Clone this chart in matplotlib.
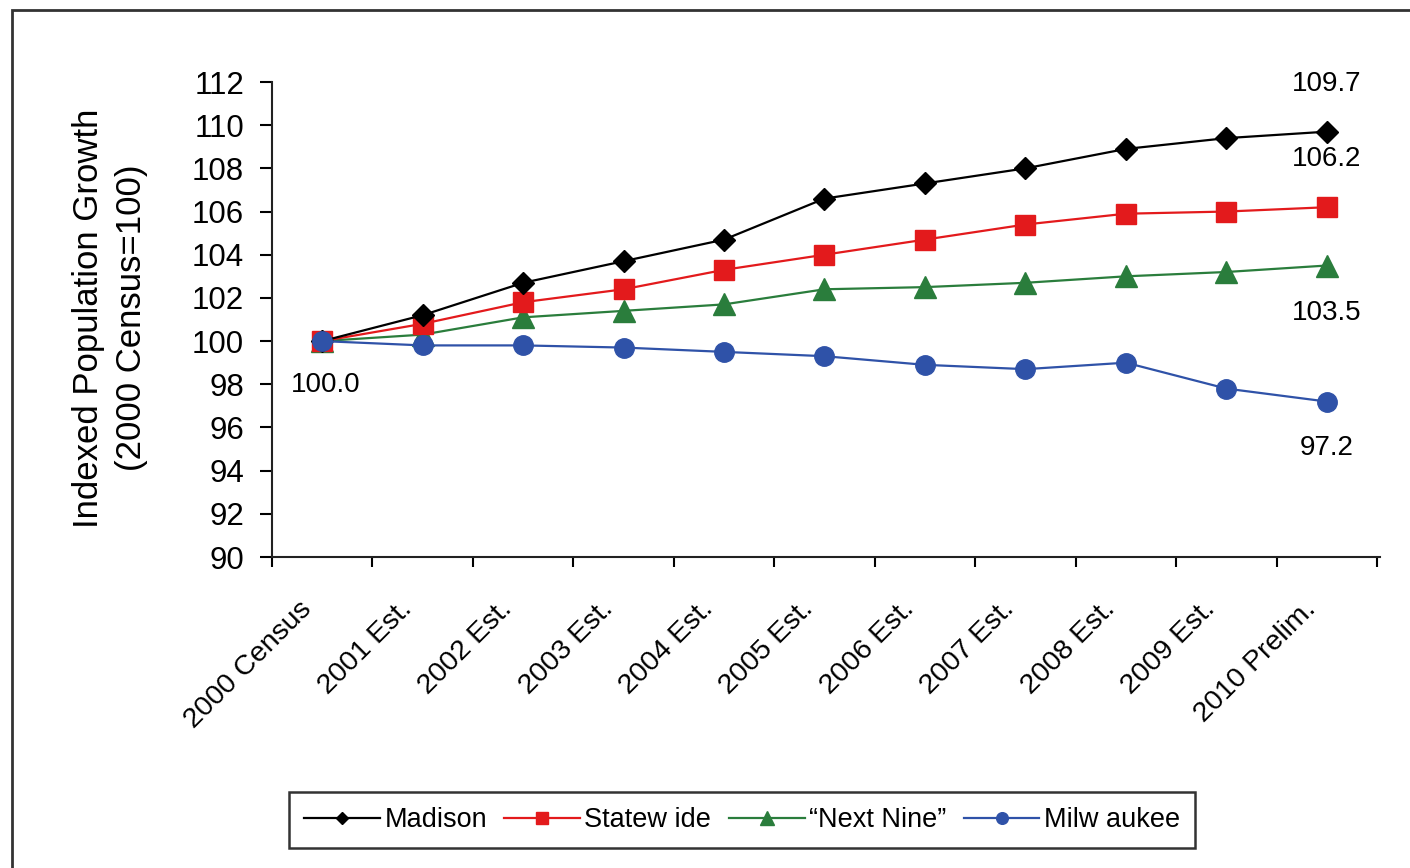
import matplotlib
matplotlib.use("Agg")
import matplotlib.pyplot as plt
from matplotlib.patches import Rectangle
from matplotlib.transforms import ScaledTranslation

plt.rcParams['font.family'] = ['Liberation Sans', 'DejaVu Sans']

categories = ["2000 Census", "2001 Est.", "2002 Est.", "2003 Est.", "2004 Est.",
              "2005 Est.", "2006 Est.", "2007 Est.", "2008 Est.", "2009 Est.", "2010 Prelim."]
madison = [100.0, 101.2, 102.7, 103.7, 104.7, 106.6, 107.3, 108.0, 108.9, 109.4, 109.7]
statewide = [100.0, 100.8, 101.8, 102.4, 103.3, 104.0, 104.7, 105.4, 105.9, 106.0, 106.2]
next_nine = [100.0, 100.3, 101.1, 101.4, 101.7, 102.4, 102.5, 102.7, 103.0, 103.2, 103.5]
milwaukee = [100.0, 99.8, 99.8, 99.7, 99.5, 99.3, 98.9, 98.7, 99.0, 97.8, 97.2]
yticks = list(range(90, 113, 2))

W, H = 1410, 868
fig = plt.figure(figsize=(W / 100, H / 100), dpi=100)
ax = fig.add_axes([272 / W, 1 - 557 / H, (1380 - 272) / W, (557 - 82) / H])

x = list(range(len(categories)))
ax.plot(x, madison, color='black', lw=1.6, marker='D', ms=11, label='Madison', zorder=5)
ax.plot(x, statewide, color='#e31a1c', lw=1.6, marker='s', ms=14.5, label='Statew ide', zorder=4)
ax.plot(x, next_nine, color='#2a7d3c', lw=1.6, marker='^', ms=16, label='\u201cNext Nine\u201d', zorder=3)
ax.plot(x, milwaukee, color='#2f52a8', lw=1.6, marker='o', ms=14, label='Milw aukee', zorder=6)

ax.set_xlim(-0.5, len(categories) - 0.5 + 0.03)
ax.set_ylim(90, 112)
ax.set_yticks(yticks)
ax.set_yticklabels([str(v) for v in yticks], fontsize=22.5)
ax.tick_params(axis='y', direction='out', length=9, width=1.5, pad=11)

ax.set_xticks(x)
ax.set_xticklabels(categories, fontsize=20.5, rotation=45, ha='right', va='center',
                   rotation_mode='anchor')
ax.tick_params(axis='x', which='major', length=0, pad=0)
off = ScaledTranslation(-15 / 100, -48 / 100, fig.dpi_scale_trans)
for lab in ax.get_xticklabels():
    lab.set_transform(lab.get_transform() + off)
ax.set_xticks([i - 0.5 for i in range(len(categories) + 1)], minor=True)
ax.tick_params(axis='x', which='minor', direction='out', length=7, width=1.5)

for s in ['top', 'right']:
    ax.spines[s].set_visible(False)
for s in ['left', 'bottom']:
    ax.spines[s].set_linewidth(1.5)
    ax.spines[s].set_color('#222222')

# value annotations
last = len(categories) - 1
fs_ann = 20
ax.annotate(f"{madison[-1]:.1f}", (last, madison[-1]), xytext=(0, 48), textcoords='offset pixels',
            ha='center', va='center', fontsize=fs_ann)
ax.annotate(f"{statewide[-1]:.1f}", (last, statewide[-1]), xytext=(0, 48), textcoords='offset pixels',
            ha='center', va='center', fontsize=fs_ann)
ax.annotate(f"{next_nine[-1]:.1f}", (last, next_nine[-1]), xytext=(0, -47), textcoords='offset pixels',
            ha='center', va='center', fontsize=fs_ann)
ax.annotate(f"{milwaukee[-1]:.1f}", (last, milwaukee[-1]), xytext=(0, -46), textcoords='offset pixels',
            ha='center', va='center', fontsize=fs_ann)
ax.annotate(f"{madison[0]:.1f}", (0, madison[0]), xytext=(3, -44), textcoords='offset pixels',
            ha='center', va='center', fontsize=fs_ann)

fig.text(110 / W, 1 - 318 / H, "Indexed Population Growth\n(2000 Census=100)", rotation=90,
         ha='center', va='center', fontsize=25, multialignment='center', linespacing=1.42)

leg = fig.legend(loc='center', bbox_to_anchor=(742 / W, 1 - 820 / H), ncol=4, fontsize=19.5,
                 frameon=True, fancybox=False, edgecolor='black', handlelength=2.8,
                 markerscale=0.6, columnspacing=0.65, handletextpad=0.15, borderpad=0.55)
leg.get_frame().set_linewidth(1.8)

fig.patches.append(Rectangle((12 / W, -0.1), 1.2, 1 - 10 / H + 0.1, transform=fig.transFigure,
                             fill=False, edgecolor='#333333', linewidth=2))

fig.savefig('out.png', dpi=100)
